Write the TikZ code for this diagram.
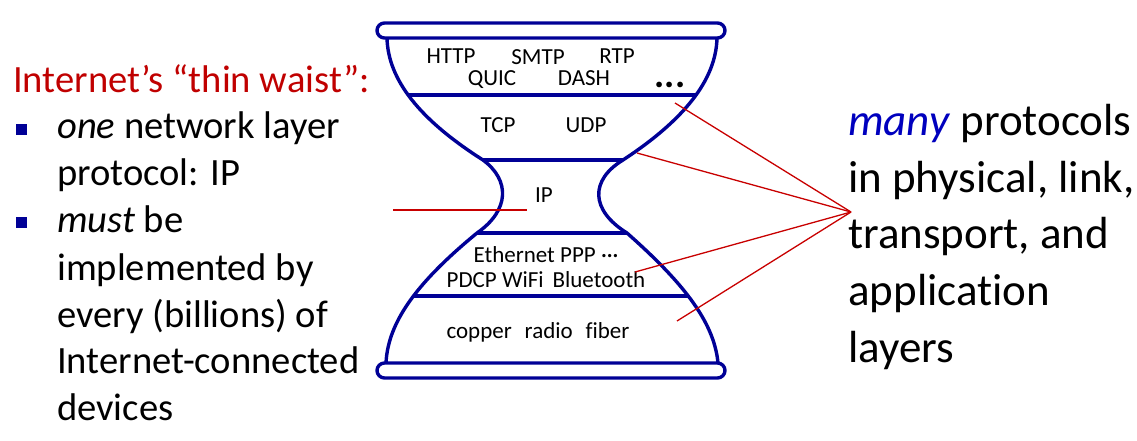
\documentclass[tikz,border=0pt]{standalone}
\usepackage{fontspec}
\setmainfont{Carlito}[Ligatures=NoCommon]
\definecolor{hgblue}{RGB}{0,0,150}
\definecolor{redl}{RGB}{200,0,0}
\definecolor{redt}{RGB}{192,0,0}
\definecolor{manyblue}{RGB}{0,0,190}
\begin{document}
\begin{tikzpicture}[x=1pt,y=-1pt,
  hg/.style={draw=hgblue, line width=3.4pt},
  sep/.style={draw=hgblue, line width=3.4pt},
  rim/.style={draw=hgblue, line width=3.4pt, fill=white, rounded corners=7.5pt},
  lbl/.style={font=\fontsize{23}{26}\selectfont, inner sep=0pt, anchor=base},
  redline/.style={draw=redl, line width=1.3pt},
  lefttxt/.style={font=\fontsize{38.6}{47}\selectfont, inner sep=0pt, anchor=base west},
  righttxt/.style={font=\fontsize{45}{57}\selectfont, inner sep=0pt, anchor=base west},
  bullet/.style={fill=hgblue, minimum size=10.5pt, inner sep=0pt, draw=none}]
\useasboundingbox (0,0) rectangle (1137,440);
% hourglass body
\begin{scope}
\clip (387,38) .. controls (388,80) and (420,120) .. (483,160)
  .. controls (510,180) and (510,210) .. (477,233)
  .. controls (420,280) and (388,320) .. (386,363)
  -- (718,363) .. controls (714,320) and (680,280) .. (627,233)
  .. controls (590,210) and (590,180) .. (623,160)
  .. controls (684,120) and (716,80) .. (717,38) -- cycle;
\draw[sep] (370,95) -- (740,95);
\draw[sep] (370,160) -- (740,160);
\draw[sep] (370,233) -- (740,233);
\draw[sep] (370,296) -- (740,296);
\end{scope}
\draw[hg] (387,38) .. controls (388,80) and (420,120) .. (483,160)
  .. controls (510,180) and (510,210) .. (477,233)
  .. controls (420,280) and (388,320) .. (386,363);
\draw[hg] (718,363) .. controls (714,320) and (680,280) .. (627,233)
  .. controls (590,210) and (590,180) .. (623,160)
  .. controls (684,120) and (716,80) .. (717,38);
\draw[rim] (377,23) rectangle (725,38);
\draw[rim] (377,363) rectangle (725,378);
% layer labels
\node[lbl] (http) at (451,63) {HTTP};
\node[lbl] (smtp) at (538,64.5) {SMTP};
\node[lbl] (rtp) at (617,63) {RTP};
\node[lbl] (quic) at (492,85) {QUIC};
\node[lbl] (dash) at (584,85) {DASH};
\node[lbl, font=\fontsize{38}{40}\selectfont\bfseries] (dots) at (670,87) {...};
\node[lbl] (tcp) at (498,132) {TCP};
\node[lbl] (udp) at (586,132) {UDP};
\node[lbl] (ip) at (544,202) {IP};
\node[lbl] (eth) at (546,262) {Ethernet PPP ···};
\node[lbl] (pdcp) at (546,287) {PDCP WiFi\, Bluetooth};
\node[lbl] (phy) at (538,338) {copper\,\, radio\,\, fiber};
% red connectors
\coordinate (hub) at (851,212);
\coordinate (e1) at (675,103);
\coordinate (e2) at (637,153);
\coordinate (e3) at (635,272);
\coordinate (e4) at (677,321);
\coordinate (ipl) at (393,210);
\coordinate (ipr) at (527,210);
\draw[redline] (hub) -- (e1);
\draw[redline] (hub) -- (e2);
\draw[redline] (hub) -- (e3);
\draw[redline] (hub) -- (e4);
\draw[redline] (ipl) -- (ipr);
% left text
\node[lefttxt, text=redt] (title) at (13,92) {Internet’s “thin waist”:};
\node[bullet] (b1) at (21.5,129.5) {};
\node[bullet] (b2) at (21.5,222.5) {};
\node[lefttxt] (l1) at (57,138) {\textit{one} network layer};
\node[lefttxt] (l2) at (57,185) {protocol: IP};
\node[lefttxt] (l3) at (57,232) {\textit{must} be};
\node[lefttxt] (l4) at (57,280) {implemented by};
\node[lefttxt] (l5) at (57,327) {every (billions) of};
\node[lefttxt] (l6) at (57,373) {Internet-connected};
\node[lefttxt] (l7) at (57,420) {devices};
% right text
\node[righttxt] (r1) at (848,135) {\textcolor{manyblue}{\textit{many}} protocols};
\node[righttxt] (r2) at (848,192) {in physical, link,};
\node[righttxt] (r3) at (848,248) {transport, and};
\node[righttxt] (r4) at (848,305) {application};
\node[righttxt] (r5) at (848,362) {layers};
\end{tikzpicture}
\end{document}
